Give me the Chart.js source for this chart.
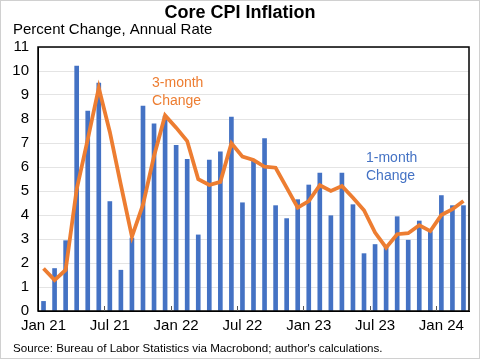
<!DOCTYPE html>
<html>
<head>
<meta charset="utf-8">
<script src="https://cdn.jsdelivr.net/npm/chart.js@4.4.1/dist/chart.umd.min.js"></script>
<style>
  body { margin: 0; background: #fff; }
  #wrap { width: 480px; height: 360px; }
</style>
</head>
<body>
<div id="wrap"><canvas id="myChart" width="480" height="360"></canvas></div>
<script>
const months = [
  'Jan 21','Feb 21','Mar 21','Apr 21','May 21','Jun 21','Jul 21','Aug 21','Sep 21','Oct 21','Nov 21','Dec 21',
  'Jan 22','Feb 22','Mar 22','Apr 22','May 22','Jun 22','Jul 22','Aug 22','Sep 22','Oct 22','Nov 22','Dec 22',
  'Jan 23','Feb 23','Mar 23','Apr 23','May 23','Jun 23','Jul 23','Aug 23','Sep 23','Oct 23','Nov 23','Dec 23',
  'Jan 24','Feb 24','Mar 24'
];
const oneMonth = [
  0.4, 1.77, 2.93, 10.2, 8.33, 9.5, 4.56, 1.7, 3.04, 8.54, 7.8, 8.12,
  6.9, 6.32, 3.17, 6.29, 6.63, 8.08, 4.51, 6.25, 7.18, 4.39, 3.85, 4.64,
  5.25, 5.75, 3.97, 5.75, 4.43, 2.39, 2.77, 2.74, 3.93, 2.95, 3.75, 3.31,
  4.81, 4.39, 4.39
];
const threeMonth = [
  1.77, 1.29, 1.71, 5.07, 7.15, 9.3, 7.46, 5.25, 3.1, 4.43, 6.46, 8.15,
  7.64, 7.08, 5.49, 5.25, 5.38, 6.99, 6.43, 6.29, 6.01, 5.97, 5.14, 4.31,
  4.58, 5.24, 5.0, 5.21, 4.72, 4.2, 3.27, 2.64, 3.2, 3.24, 3.57, 3.33,
  4.0, 4.24, 4.58
];
const yTicks = [0,1,2,3,4,5,6,7,8,9,10,11];

const blue = '#4472C4';
const orange = '#ED7D31';
const font = '"Liberation Sans", Arial, sans-serif';

// titles, frame, inward ticks and labels
const extras = {
  id: 'extras',
  beforeDraw(chart) {
    const c = chart.ctx;
    c.save();
    c.fillStyle = '#fff';
    c.fillRect(0, 0, chart.width, chart.height);
    c.restore();
  },
  afterDraw(chart) {
    const c = chart.ctx;
    const a = chart.chartArea;
    const x = chart.scales.x, y = chart.scales.y;
    c.save();
    // frame
    c.strokeStyle = '#000';
    c.lineWidth = 1.5;
    c.strokeRect(a.left, a.top, a.right - a.left, a.bottom - a.top);
    // inward tick marks every 6 months at category edges
    const half = (x.getPixelForValue(1) - x.getPixelForValue(0)) / 2;
    c.lineWidth = 1;
    c.strokeStyle = '#555';
    for (let i = 6; i < months.length; i += 6) {
      const px = Math.round(x.getPixelForValue(i) - half) + 0.5;
      c.beginPath();
      c.moveTo(px, a.bottom);
      c.lineTo(px, a.bottom - 5);
      c.stroke();
    }
    // titles
    c.fillStyle = '#000';
    c.textBaseline = 'middle';
    c.textAlign = 'center';
    c.font = 'bold 18px ' + font;
    c.fillText('Core CPI Inflation', 240, 13);
    c.textAlign = 'left';
    c.font = '15px ' + font;
    c.fillText('Percent Change, Annual Rate', 13, 30);
    c.font = '11.6px ' + font;
    c.fillText("Source: Bureau of Labor Statistics via Macrobond; author's calculations.", 13, 349);
    // series labels
    c.font = '14px ' + font;
    c.fillStyle = orange;
    c.fillText('3-month', x.getPixelForValue(10) - 2, y.getPixelForValue(9.49));
    c.fillText('Change', x.getPixelForValue(10) - 2, y.getPixelForValue(8.74));
    c.fillStyle = blue;
    c.fillText('1-month', x.getPixelForValue(29) + 2, y.getPixelForValue(6.36));
    c.fillText('Change', x.getPixelForValue(29) + 2, y.getPixelForValue(5.61));
    // outer border
    c.strokeStyle = '#d0d0d0';
    c.lineWidth = 1;
    c.strokeRect(0.5, 0.5, chart.width - 1, chart.height - 2);
    c.restore();
  }
};

const ctx = document.getElementById('myChart');
const myChart = new Chart(ctx, {
  data: {
    labels: months,
    datasets: [{
      type: 'line',
      label: '3-month Change',
      data: threeMonth,
      borderColor: orange,
      borderWidth: 3.8,
      pointRadius: 0,
      tension: 0,
      order: 1
    }, {
      type: 'bar',
      label: '1-month Change',
      data: oneMonth,
      backgroundColor: blue,
      barThickness: 4,
      order: 2
    }]
  },
  options: {
    responsive: false,
    animation: false,
    layout: { padding: { top: 47, right: 11, bottom: 23, left: 0 } },
    plugins: { legend: { display: false }, tooltip: { enabled: false } },
    scales: {
      x: {
        offset: true,
        grid: { display: false, drawTicks: false },
        border: { color: '#000', width: 1 },
        ticks: {
          autoSkip: false,
          maxRotation: 0,
          padding: 6,
          color: '#000',
          font: { family: font, size: 15 },
          callback: (v, i) => (i % 6 === 0 ? months[i] : '')
        },
        afterFit: s => { s.height = 26; }
      },
      y: {
        min: yTicks[0],
        max: yTicks[yTicks.length - 1],
        grid: { color: '#e4e4e4', drawTicks: false },
        border: { color: '#000', width: 1 },
        ticks: {
          stepSize: 1,
          padding: 9,
          color: '#000',
          font: { family: font, size: 15 }
        },
        afterFit: s => { s.width = 38; }
      }
    }
  },
  plugins: [extras]
});
</script>
</body>
</html>
